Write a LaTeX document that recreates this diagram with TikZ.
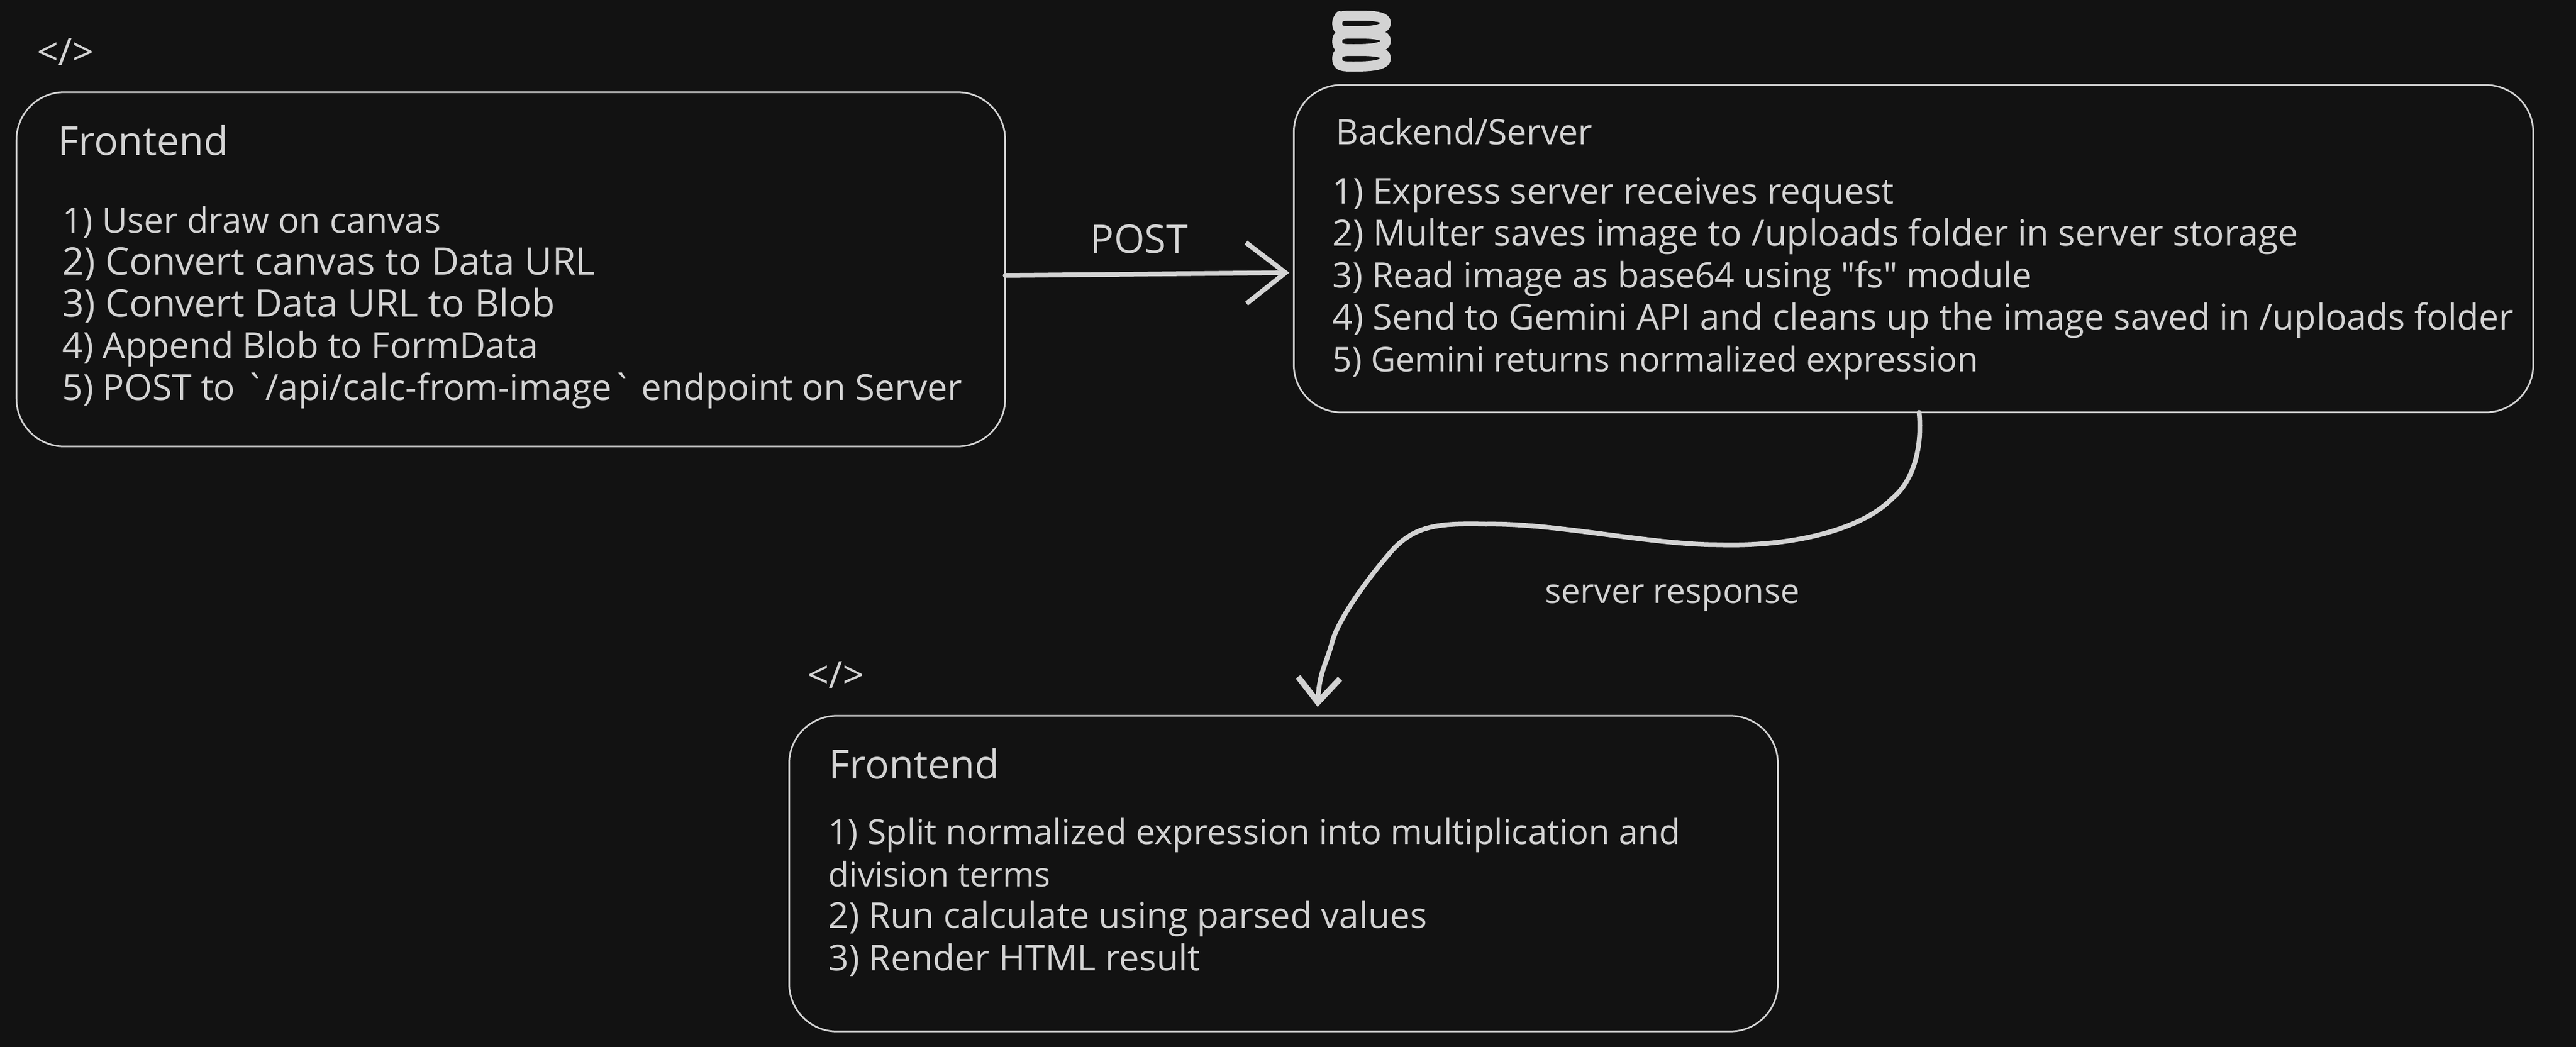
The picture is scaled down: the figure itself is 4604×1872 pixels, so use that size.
\documentclass[tikz,border=0pt]{standalone}
\usepackage{fontspec}
\setmainfont{Open Sans}
\usetikzlibrary{arrows.meta}
\definecolor{ink}{HTML}{121212}
\definecolor{chalk}{HTML}{D3D3D3}
\tikzset{
	panel/.style={draw=chalk, line width=0.3mm, rounded corners=8.5mm, inner sep=0pt, outer sep=0pt},
	body/.style={text=chalk, anchor=base west, inner sep=0pt, font=\fontsize{#1}{22}\selectfont},
	body/.default=18.2,
	title/.style={text=chalk, anchor=base west, inner sep=0pt, font=\fontsize{#1}{24}\selectfont},
	title/.default=20.3,
	tag/.style={text=chalk, anchor=base, inner sep=0pt, font=\fontsize{#1}{24}\selectfont},
	flow/.style={draw=chalk, line width=0.85mm, line cap=round},
}
\begin{document}
\begin{tikzpicture}[x=0.01cm,y=-0.01cm]
	\fill[ink] (0,0) rectangle (4604,1872);
	\node[panel, minimum width=17.66cm, minimum height=6.33cm] (frontA) at (913,481.5) {};
	\node[panel, minimum width=22.14cm, minimum height=5.85cm] (backend) at (3420,444.5) {};
	\node[panel, minimum width=17.66cm, minimum height=5.64cm] (frontC) at (2294,1562) {};
	% first panel
	\node[tag=19] (iconA) at (117,116) {</>};
	\node[title] (titleA) at (103,277) {Frontend};
	\node[body=17.8] (a1) at (111,416) {1) User draw on canvas};
	\node[body=19.3] (a2) at (111,491) {2) Convert canvas to Data URL};
	\node[body=19.3] (a3) at (111,566) {3) Convert Data URL to Blob};
	\node[body] (a4) at (111,640) {4) Append Blob to FormData};
	\node[body] (a5) at (111,715) {5) POST to \textasciigrave/api/calc-from-image\textasciigrave\ endpoint on Server};
	% server panel
	\foreach \y in {42,74,105}
		\draw[chalk, line width=1.8mm, line join=round] (2390,\y) .. controls (2390,\y-14) and (2400,\y-14) .. (2420,\y-14) .. controls (2450,\y-14) and (2477,\y-14) .. (2477,\y-1) .. controls (2477,\y+12) and (2450,\y+14) .. (2420,\y+14) .. controls (2400,\y+14) and (2390,\y+14) .. cycle;
	\fill[chalk] (2394,28) circle (8);
	\node[title=17.8] (titleB) at (2387,258) {Backend/Server};
	\node[body=18.1] (b1) at (2381,364) {1) Express server receives request};
	\node[body=18.3] (b2) at (2381,439) {2) Multer saves image to /uploads folder in server storage};
	\node[body=17.8] (b3) at (2381,514) {3) Read image as base64 using \textquotedbl fs\textquotedbl\ module};
	\node[body=18.1] (b4) at (2381,589) {4) Send to Gemini API and cleans up the image saved in /uploads folder};
	\node[body=17.3] (b5) at (2381,664) {5) Gemini returns normalized expression};
	% result panel
	\node[tag=19] (iconC) at (1494,1230) {</>};
	\node[title] (titleC) at (1481,1392) {Frontend};
	\node[body=17.5] (c1) at (1480,1509) {1) Split normalized expression into multiplication and};
	\node[body=17.2] (c2) at (1480,1585) {division terms};
	\node[body=18.1] (c3) at (1480,1659) {2) Run calculate using parsed values};
	\node[body] (c4) at (1480,1735) {3) Render HTML result};
	% connectors
	\node[tag=20] (post) at (2036,452) {POST};
	\node[tag=17.3] (reply) at (2989,1078) {server response};
	\draw[flow, -{Straight Barb[length=7mm, width=10.9mm]}] ([shift={(0,11)}]frontA.east) -- ([shift={(-8,43)}]backend.west);
	\draw[flow, -{Straight Barb[length=4.4mm, width=7.5mm, line width=1.05mm]}] ([shift={(10,0)}]backend.south) .. controls (3436,800) and (3420,860) .. (3382,891) .. controls (3325,950) and (3195,978) .. (3071,974) .. controls (2950,974) and (2780,935) .. (2656,937) .. controls (2570,935) and (2530,940) .. (2490,982) .. controls (2465,1010) and (2400,1090) .. (2382,1144) .. controls (2370,1190) and (2358,1200) .. ([shift={(61,-16)}]frontC.north);
\end{tikzpicture}
\end{document}
